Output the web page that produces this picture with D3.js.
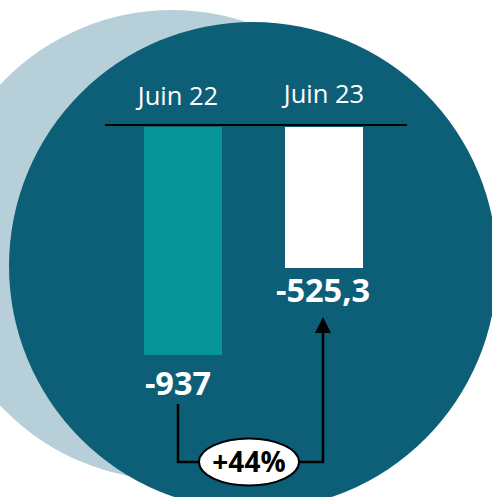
<!DOCTYPE html>
<html><head><meta charset="utf-8">
<script src="https://cdn.jsdelivr.net/npm/d3@7"></script>
<style>html,body{margin:0;padding:0;background:#fff;overflow:hidden}</style>
</head><body>
<script>
const categories = ["Juin 22", "Juin 23"];
const values = [-937, -525.3];
const valueLabels = ["-937", "-525,3"];
const barColors = ["#069699", "#ffffff"];
const changeLabel = "+44%";

const W = 492, H = 497;
const svg = d3.select("body").append("svg").attr("width", W).attr("height", H);

// background circles
svg.append("circle").attr("cx", 172).attr("cy", 245).attr("r", 235).attr("fill", "#b6cfd8");
svg.append("circle").attr("cx", 253).attr("cy", 266).attr("r", 244).attr("fill", "#0d5f77");

const x = d3.scaleBand().domain(categories).range([144, 363]).paddingInner(0.447).paddingOuter(0);
const axisTop = 127;
const y = d3.scaleLinear().domain([0, -937]).range([157, 355]);
const labelShift = [-5, 0];

// bars
svg.selectAll("rect.bar").data(values).enter().append("rect")
  .attr("x", (d, i) => x(categories[i]))
  .attr("width", x.bandwidth())
  .attr("y", axisTop)
  .attr("height", d => y(d) - axisTop)
  .attr("fill", (d, i) => barColors[i]);

// axis line
svg.append("line").attr("x1", 105).attr("x2", 407).attr("y1", 125).attr("y2", 125)
  .attr("stroke", "#000").attr("stroke-width", 2);

// category labels
svg.selectAll("text.cat").data(categories).enter().append("text")
  .attr("x", (d, i) => x(d) + x.bandwidth() / 2 + labelShift[i])
  .attr("y", (d, i) => i === 0 ? 105 : 103)
  .attr("text-anchor", "middle")
  .attr("font-family", "Open Sans, sans-serif").attr("font-size", 25.5)
  .attr("fill", "#fff").text(d => d);

// value labels
svg.selectAll("text.val").data(values).enter().append("text")
  .attr("x", (d, i) => x(categories[i]) + x.bandwidth() / 2 + labelShift[i] - (i === 1 ? 1 : 0))
  .attr("y", d => y(d) + 40 - (d > -600 ? 6 : 0))
  .attr("text-anchor", "middle")
  .attr("font-family", "Open Sans, sans-serif").attr("font-weight", "bold").attr("font-size", 32.5)
  .attr("fill", "#fff").text((d, i) => valueLabels[i]);

// connector arrow
const x1 = x(categories[0]) + x.bandwidth() / 2 + labelShift[0];
const x2 = x(categories[1]) + x.bandwidth() / 2 - 1;
const yb = 462;
svg.append("path")
  .attr("d", `M${x1},404 V${yb} H${x2} V330`)
  .attr("fill", "none").attr("stroke", "#000").attr("stroke-width", 2.5);
svg.append("path")
  .attr("d", `M${x2 - 8},333 L${x2},317 L${x2 + 8},333 Z`)
  .attr("fill", "#000");

const cx = 249;
svg.append("ellipse").attr("cx", cx).attr("cy", yb).attr("rx", 50).attr("ry", 23.5)
  .attr("fill", "#fff").attr("stroke", "#000").attr("stroke-width", 2);
svg.append("text").attr("x", cx).attr("y", yb + 10).attr("text-anchor", "middle")
  .attr("font-family", "Open Sans, sans-serif").attr("font-weight", "bold").attr("font-size", 28)
  .attr("fill", "#000").text(changeLabel);
</script>
</body></html>
